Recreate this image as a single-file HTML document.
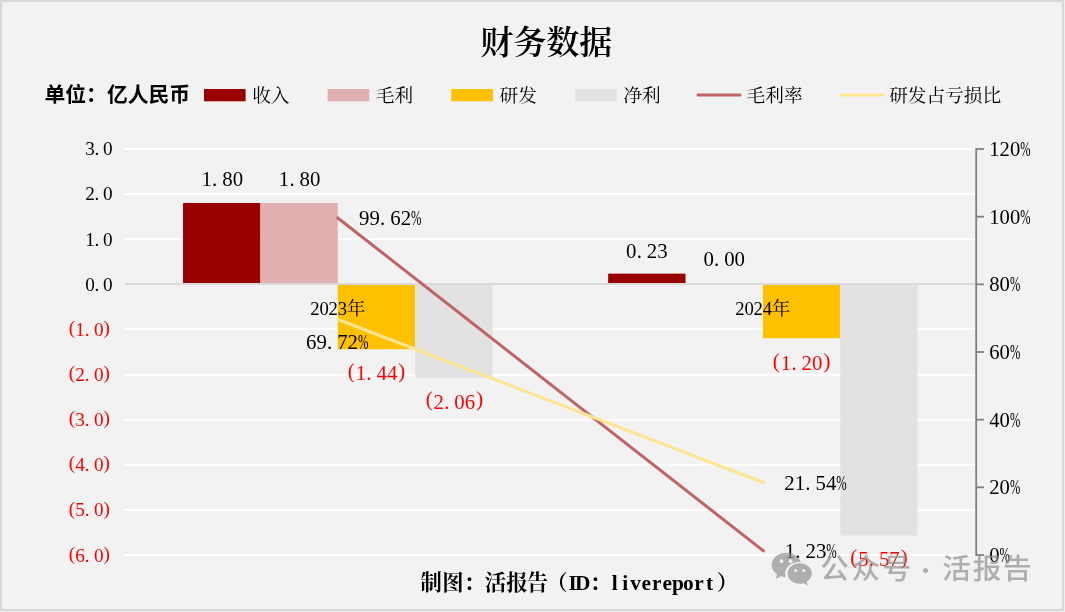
<!DOCTYPE html>
<html lang="zh-CN"><head><meta charset="utf-8"><title>财务数据</title>
<style>html,body{margin:0;padding:0;background:#f2f2f2;}svg{display:block}</style></head>
<body>
<svg width="1065" height="612" viewBox="0 0 1065 612">
<rect x="0" y="0" width="1065" height="612" fill="#f2f2f2"/>
<rect x="125.0" y="148" width="850.2" height="2" fill="#ffffff"/>
<rect x="125.0" y="193" width="850.2" height="2" fill="#ffffff"/>
<rect x="125.0" y="238" width="850.2" height="2" fill="#ffffff"/>
<rect x="125.0" y="328" width="850.2" height="2" fill="#ffffff"/>
<rect x="125.0" y="374" width="850.2" height="2" fill="#ffffff"/>
<rect x="125.0" y="419" width="850.2" height="2" fill="#ffffff"/>
<rect x="125.0" y="464" width="850.2" height="2" fill="#ffffff"/>
<rect x="125.0" y="509" width="850.2" height="2" fill="#ffffff"/>
<rect x="125.0" y="554" width="850.2" height="2" fill="#ffffff"/>
<rect x="183.04" y="203.00" width="77.38" height="80.00" fill="#990000"/>
<rect x="260.42" y="203.00" width="77.38" height="80.00" fill="#e0b0b0"/>
<rect x="337.80" y="285.00" width="77.38" height="64.24" fill="#ffc000"/>
<rect x="415.18" y="285.00" width="77.38" height="92.70" fill="#e2e2e2"/>
<rect x="608.14" y="273.65" width="77.38" height="9.35" fill="#990000"/>
<rect x="762.90" y="285.00" width="77.38" height="53.20" fill="#ffc000"/>
<rect x="840.28" y="285.00" width="77.38" height="250.65" fill="#e2e2e2"/>
<rect x="125.0" y="283.0" width="850.2" height="2" fill="#d9d9d9"/>
<line x1="976.2" x2="976.2" y1="148.10" y2="555.90" stroke="#7f7f7f" stroke-width="1.8"/>
<line x1="976.2" x2="984.0" y1="555.00" y2="555.00" stroke="#7f7f7f" stroke-width="1.8"/>
<line x1="976.2" x2="984.0" y1="487.33" y2="487.33" stroke="#7f7f7f" stroke-width="1.8"/>
<line x1="976.2" x2="984.0" y1="419.67" y2="419.67" stroke="#7f7f7f" stroke-width="1.8"/>
<line x1="976.2" x2="984.0" y1="352.00" y2="352.00" stroke="#7f7f7f" stroke-width="1.8"/>
<line x1="976.2" x2="984.0" y1="284.33" y2="284.33" stroke="#7f7f7f" stroke-width="1.8"/>
<line x1="976.2" x2="984.0" y1="216.67" y2="216.67" stroke="#7f7f7f" stroke-width="1.8"/>
<line x1="976.2" x2="984.0" y1="149.00" y2="149.00" stroke="#7f7f7f" stroke-width="1.8"/>
<line x1="337.80" y1="217.95" x2="763.40" y2="550.84" stroke="#c06367" stroke-width="3" stroke-linecap="round"/>
<line x1="337.80" y1="319.51" x2="763.40" y2="482.52" stroke="#ffe593" stroke-width="3" stroke-linecap="round"/>
<g font-family='"Liberation Serif", "Noto Serif CJK SC", serif'>
<text x="90.00 96.85 107.80" y="154.80" font-size="19.2" fill="#000" text-anchor="middle" >3.0</text>
<text x="90.00 96.85 107.80" y="199.90" font-size="19.2" fill="#000" text-anchor="middle" >2.0</text>
<text x="90.00 96.85 107.80" y="245.80" font-size="19.2" fill="#000" text-anchor="middle" >1.0</text>
<text x="90.00 96.85 107.80" y="291.00" font-size="19.2" fill="#000" text-anchor="middle" >0.0</text>
<text x="72.01 80.05 87.25 98.75 106.79" y="335.60" dy="-1.63 1.63 0 0 -1.63" font-size="19.2" fill="#ff0000" text-anchor="middle" >(1.0)</text>
<text x="72.01 80.05 87.25 98.75 106.79" y="380.60" dy="-1.63 1.63 0 0 -1.63" font-size="19.2" fill="#ff0000" text-anchor="middle" >(2.0)</text>
<text x="72.01 80.05 87.25 98.75 106.79" y="425.80" dy="-1.63 1.63 0 0 -1.63" font-size="19.2" fill="#ff0000" text-anchor="middle" >(3.0)</text>
<text x="72.01 80.05 87.25 98.75 106.79" y="470.90" dy="-1.63 1.63 0 0 -1.63" font-size="19.2" fill="#ff0000" text-anchor="middle" >(4.0)</text>
<text x="72.01 80.05 87.25 98.75 106.79" y="516.20" dy="-1.63 1.63 0 0 -1.63" font-size="19.2" fill="#ff0000" text-anchor="middle" >(5.0)</text>
<text x="72.01 80.05 87.25 98.75 106.79" y="561.70" dy="-1.63 1.63 0 0 -1.63" font-size="19.2" fill="#ff0000" text-anchor="middle" >(6.0)</text>
<text x="994.45" y="562.00" font-size="20.6" fill="#000" text-anchor="middle" >0<tspan x="1004.75" textLength="10.30" lengthAdjust="spacingAndGlyphs">%</tspan></text>
<text x="994.45 1004.75" y="494.33" font-size="20.6" fill="#000" text-anchor="middle" >20<tspan x="1015.05" textLength="10.30" lengthAdjust="spacingAndGlyphs">%</tspan></text>
<text x="994.45 1004.75" y="426.67" font-size="20.6" fill="#000" text-anchor="middle" >40<tspan x="1015.05" textLength="10.30" lengthAdjust="spacingAndGlyphs">%</tspan></text>
<text x="994.45 1004.75" y="359.00" font-size="20.6" fill="#000" text-anchor="middle" >60<tspan x="1015.05" textLength="10.30" lengthAdjust="spacingAndGlyphs">%</tspan></text>
<text x="994.45 1004.75" y="291.33" font-size="20.6" fill="#000" text-anchor="middle" >80<tspan x="1015.05" textLength="10.30" lengthAdjust="spacingAndGlyphs">%</tspan></text>
<text x="994.45 1004.75 1015.05" y="223.67" font-size="20.6" fill="#000" text-anchor="middle" >100<tspan x="1025.35" textLength="10.30" lengthAdjust="spacingAndGlyphs">%</tspan></text>
<text x="994.45 1004.75 1015.05" y="156.00" font-size="20.6" fill="#000" text-anchor="middle" >120<tspan x="1025.35" textLength="10.30" lengthAdjust="spacingAndGlyphs">%</tspan></text>
<text x="206.63 214.64 227.43 237.83" y="186.20" font-size="20.8" fill="#000" text-anchor="middle" >1.80</text>
<text x="284.01 292.02 304.81 315.21" y="186.20" font-size="20.8" fill="#000" text-anchor="middle" >1.80</text>
<text x="631.23 639.24 652.03 662.43" y="257.60" font-size="20.8" fill="#000" text-anchor="middle" >0.23</text>
<text x="708.61 716.62 729.41 739.81" y="266.40" font-size="20.8" fill="#000" text-anchor="middle" >0.00</text>
<text x="351.22 360.89 368.90 381.69 392.09 401.76" y="380.40" dy="-2.60 2.60 0 0 0 -2.60" font-size="20.8" fill="#ff0000" text-anchor="middle" >(1.44)</text>
<text x="429.10 438.77 446.78 459.57 469.97 479.64" y="408.60" dy="-2.60 2.60 0 0 0 -2.60" font-size="20.8" fill="#ff0000" text-anchor="middle" >(2.06)</text>
<text x="776.32 785.99 794.00 806.79 817.19 826.86" y="370.40" dy="-2.60 2.60 0 0 0 -2.60" font-size="20.8" fill="#ff0000" text-anchor="middle" >(1.20)</text>
<text x="853.70 863.37 871.38 884.17 894.57 904.24" y="566.40" dy="-2.60 2.60 0 0 0 -2.60" font-size="20.8" fill="#ff0000" text-anchor="middle" >(5.57)</text>
<text x="364.30 374.70 382.71 395.50 405.90" y="225.40" font-size="20.8" fill="#000" text-anchor="middle" >99.62<tspan x="416.30" textLength="10.40" lengthAdjust="spacingAndGlyphs">%</tspan></text>
<text x="311.20 321.60 329.61 342.40 352.80" y="348.60" font-size="20.8" fill="#000" text-anchor="middle" >69.72<tspan x="363.20" textLength="10.40" lengthAdjust="spacingAndGlyphs">%</tspan></text>
<text x="789.50 799.90 807.91 820.70 831.10" y="490.20" font-size="20.8" fill="#000" text-anchor="middle" >21.54<tspan x="841.50" textLength="10.40" lengthAdjust="spacingAndGlyphs">%</tspan></text>
<text x="789.90 797.91 810.70 821.10" y="558.00" font-size="20.8" fill="#000" text-anchor="middle" >1.23<tspan x="831.50" textLength="10.40" lengthAdjust="spacingAndGlyphs">%</tspan></text>
<text x="314.93 324.07 333.22 342.37 356.10" y="315.40" font-size="18.67" fill="#000" text-anchor="middle" >2023年</text>
<text x="739.93 749.08 758.23 767.38 781.10" y="314.80" font-size="18.67" fill="#000" text-anchor="middle" >2024年</text>
</g>
<rect x="204" y="89" width="41.6" height="12.3" fill="#990000"/>
<text x="252.2" y="102.2" font-size="18.67" font-family='"Liberation Serif", "Noto Serif CJK SC", serif' fill="#000">收入</text>
<rect x="327.6" y="89" width="41.6" height="12.3" fill="#e0b0b0"/>
<text x="375.8" y="102.2" font-size="18.67" font-family='"Liberation Serif", "Noto Serif CJK SC", serif' fill="#000">毛利</text>
<rect x="451.3" y="89" width="41.6" height="12.3" fill="#ffc000"/>
<text x="499.5" y="102.2" font-size="18.67" font-family='"Liberation Serif", "Noto Serif CJK SC", serif' fill="#000">研发</text>
<rect x="575.2" y="89" width="41.6" height="12.3" fill="#e2e2e2"/>
<text x="623.4" y="102.2" font-size="18.67" font-family='"Liberation Serif", "Noto Serif CJK SC", serif' fill="#000">净利</text>
<line x1="698" x2="740" y1="95.1" y2="95.1" stroke="#c06367" stroke-width="3" stroke-linecap="round"/>
<text x="746.6" y="102.2" font-size="18.67" font-family='"Liberation Serif", "Noto Serif CJK SC", serif' fill="#000">毛利率</text>
<line x1="840.6" x2="882.6" y1="95.1" y2="95.1" stroke="#ffe593" stroke-width="3" stroke-linecap="round"/>
<text x="889.2" y="102.2" font-size="18.67" font-family='"Liberation Serif", "Noto Serif CJK SC", serif' fill="#000">研发占亏损比</text>
<text x="44.5" y="102.2" font-size="20.8" font-weight="bold" font-family='"Liberation Sans", "Noto Sans CJK SC", sans-serif' fill="#000">单位：亿人民币</text>
<text x="546.3" y="54.0" font-size="33.1" font-weight="600" text-anchor="middle" font-family='"Liberation Serif", "Noto Serif CJK SC", serif' fill="#000">财务数据</text>
<text x="431.20 452.80 474.30 495.30 516.80 537.50 556.80 572.60 582.80 600.30 614.60 625.15 635.70 646.25 656.80 667.35 677.90 688.45 699.00 709.55 727.30" y="589.6" font-size="21.33" font-weight="bold" text-anchor="middle" font-family='"Liberation Serif", "Noto Serif CJK SC", serif' fill="#000">制图：活报告（ID：livereport）</text>
<g transform="translate(-0.4,-0.9) translate(792,569) scale(0.965) translate(-792,-569)">
<g opacity="0.66" fill="#8c8c8c">
<path d="M786.5 553c-8.4 0-15.2 5.7-15.2 12.8 0 4 2.2 7.5 5.700 9.900l-1.600 4.600 5.400-2.800c1.700.5 3.300.8 5.100.9-.4-1.200-.6-2.400-.6-3.700 0-6.700 6.400-12.100 14.300-12.100.6 0 1.100 0 1.700.1C800 557.200 793.800 553 786.500 553z"/>
<path d="M813 574.600c0-5.900-5.800-10.700-12.600-10.700s-12.600 4.800-12.600 10.700 5.800 10.700 12.600 10.700c1.500 0 2.900-.2 4.300-.6l4.200 2.300-1.200-3.800c3.200-2 5.300-5.100 5.300-8.600z"/>
</g>
<g fill="#f2f2f2"><circle cx="781.6" cy="561.8" r="1.9"/><circle cx="791" cy="561.8" r="1.9"/><circle cx="796.3" cy="571.6" r="1.6"/><circle cx="804.6" cy="571.6" r="1.6"/></g>
</g>
<text y="578.8" font-size="28.6" font-weight="500" font-family='"Liberation Sans", "Noto Sans CJK SC", sans-serif' fill="#8c8c8c" opacity="0.66"><tspan x="820.3 851.4 882.5 912.9">公众号 </tspan><tspan x="914.4" y="578.4" font-size="22" font-family='"Noto Sans CJK SC", sans-serif'>·</tspan><tspan y="578.8" x="936.0 942.3 972.8 1003.1"> 活报告</tspan></text>
<g fill="#d8d8d8"><rect x="0" y="0" width="1064" height="2"/><rect x="0" y="0" width="2" height="611"/><rect x="1062" y="0" width="2" height="611"/><rect x="0" y="609" width="1064" height="2"/></g>
<g fill="#efefef"><rect x="1064" y="0" width="1" height="612"/><rect x="0" y="611" width="1065" height="1"/></g>
</svg>
</body></html>
